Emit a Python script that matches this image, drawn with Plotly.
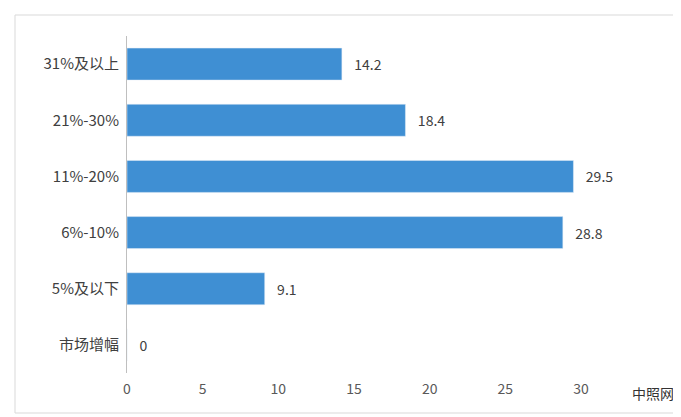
import plotly.graph_objects as go

categories = ["市场增幅", "5%及以下", "6%-10%", "11%-20%", "21%-30%", "31%及以上"]
values = [0, 9.1, 28.8, 29.5, 18.4, 14.2]
x_ticks = [0, 5, 10, 15, 20, 25, 30]

fig = go.Figure(go.Bar(
    y=categories, x=values, orientation="h",
    marker_color="#3F8FD3",
    text=["   " + f"{v:g}" for v in values], textposition="outside",
    textfont=dict(size=14, color="#404040"), cliponaxis=False,
))
W, H = 681, 417
l, r, t, b = 119, 108, 28, 52
pw, ph = W - l - r, H - t - b
fig.update_layout(
    width=W, height=H, margin=dict(l=l, r=r, t=t, b=b, autoexpand=False),
    paper_bgcolor="white", plot_bgcolor="white", bargap=0.43,
    font=dict(family="Noto Sans CJK SC", color="#404040"),
    showlegend=False,
    xaxis=dict(range=[0, 30], tickvals=x_ticks, showgrid=False, zeroline=False, automargin=False,
               tickfont=dict(size=14, color="#595959"), ticks="", showline=False,
               ticklabelstandoff=6),
    yaxis=dict(showgrid=False, zeroline=False, showline=True, linecolor="#BFBFBF", automargin=False,
               tickfont=dict(size=15, color="#404040"), ticks="", ticklabelstandoff=4),
    shapes=[dict(type="rect", xref="paper", yref="paper",
                 x0=(7 - l) / pw, x1=(672 - l) / pw,
                 y0=(H - b - 405) / ph, y1=(H - b - 7) / ph,
                 line=dict(color="#D9D9D9", width=1))],
    annotations=[dict(text="中照网", xref="paper", yref="paper",
                      x=(668 - l) / pw, y=(H - b - 385) / ph, xanchor="right", yanchor="middle",
                      showarrow=False, font=dict(size=14, color="#333333"))],
)
fig.write_html("out.html")
